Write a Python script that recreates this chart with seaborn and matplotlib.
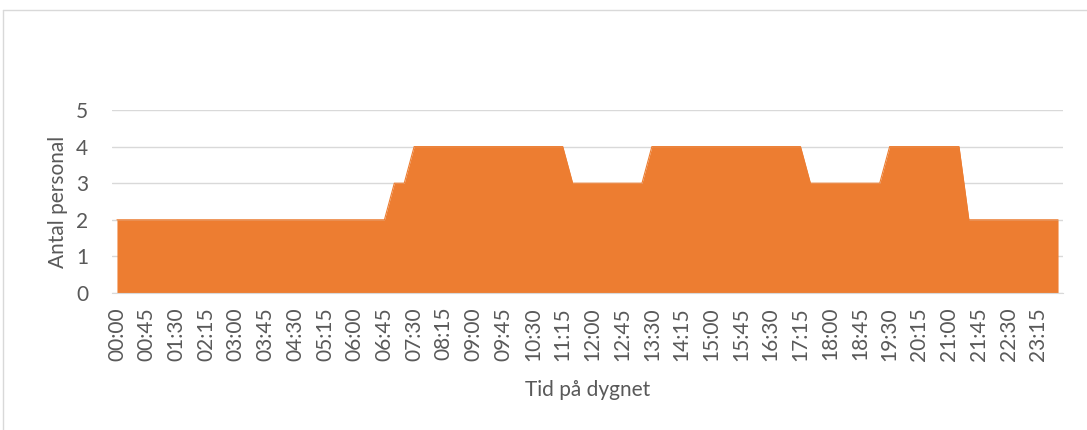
import matplotlib
matplotlib.use("Agg")
import matplotlib.pyplot as plt
from matplotlib.lines import Line2D
import pandas as pd
import seaborn as sns

# Staff count per 15 minute slot, 00:00 .. 23:45
times = [f"{h:02d}:{m:02d}" for h in range(24) for m in (0, 15, 30, 45)]
staff = [
    2, 2, 2, 2, 2, 2, 2, 2, 2, 2, 2, 2,   # 00:00 - 02:45
    2, 2, 2, 2, 2, 2, 2, 2, 2, 2, 2, 2,   # 03:00 - 05:45
    2, 2, 2, 2, 3, 3, 4, 4, 4, 4, 4, 4,   # 06:00 - 08:45
    4, 4, 4, 4, 4, 4, 4, 4, 4, 4, 3, 3,   # 09:00 - 11:45
    3, 3, 3, 3, 3, 3, 4, 4, 4, 4, 4, 4,   # 12:00 - 14:45
    4, 4, 4, 4, 4, 4, 4, 4, 4, 4, 3, 3,   # 15:00 - 17:45
    3, 3, 3, 3, 3, 3, 4, 4, 4, 4, 4, 4,   # 18:00 - 20:45
    4, 4, 2, 2, 2, 2, 2, 2, 2, 2, 2, 2,   # 21:00 - 23:45
]
tick_every = 3

df = pd.DataFrame({"Tid": times, "Antal": staff})
df["pos"] = range(len(df))

sns.set_style("white")
plt.rcParams["font.family"] = ["Lato", "DejaVu Sans"]

fig = plt.figure(figsize=(10.87, 4.30), dpi=100)
ax = fig.add_axes([112 / 1087, 1 - 293 / 430, (1063 - 112) / 1087, (293 - 110) / 430])

orange = "#ED7D31"
ax.fill_between(df["pos"], df["Antal"], color=orange, linewidth=0, zorder=3)
sns.lineplot(data=df, x="pos", y="Antal", ax=ax, color=orange, linewidth=0.8, zorder=3)

ax.set_xlim(-0.5, len(df) - 0.5)
ax.set_ylim(0, 5)
ax.set_yticks(range(6))
ax.set_xticks(df["pos"][::tick_every])
ax.set_xticklabels(df["Tid"][::tick_every], rotation=90)

grey = "#595959"
ax.tick_params(axis="both", length=0, labelsize=15, colors=grey)
ax.tick_params(axis="x", pad=10)
ax.tick_params(axis="y", pad=17)
ax.grid(axis="y", color="#D9D9D9", linewidth=1, zorder=0)
for s in ["top", "right", "left"]:
    ax.spines[s].set_visible(False)
ax.spines["bottom"].set_color("#D9D9D9")
ax.spines["bottom"].set_zorder(4)

ax.set_xlabel("Tid på dygnet", fontsize=15, color=grey, labelpad=14)
ax.set_ylabel("Antal personal", fontsize=15, color=grey, labelpad=6)

# chart frame (only left and top edges are visible in the crop)
fig.add_artist(Line2D([3 / 1087, 3 / 1087], [0, 1 - 10 / 430], color="#D9D9D9", linewidth=1))
fig.add_artist(Line2D([3 / 1087, 1], [1 - 10 / 430, 1 - 10 / 430], color="#D9D9D9", linewidth=1))

fig.savefig("out.png", dpi=100)
